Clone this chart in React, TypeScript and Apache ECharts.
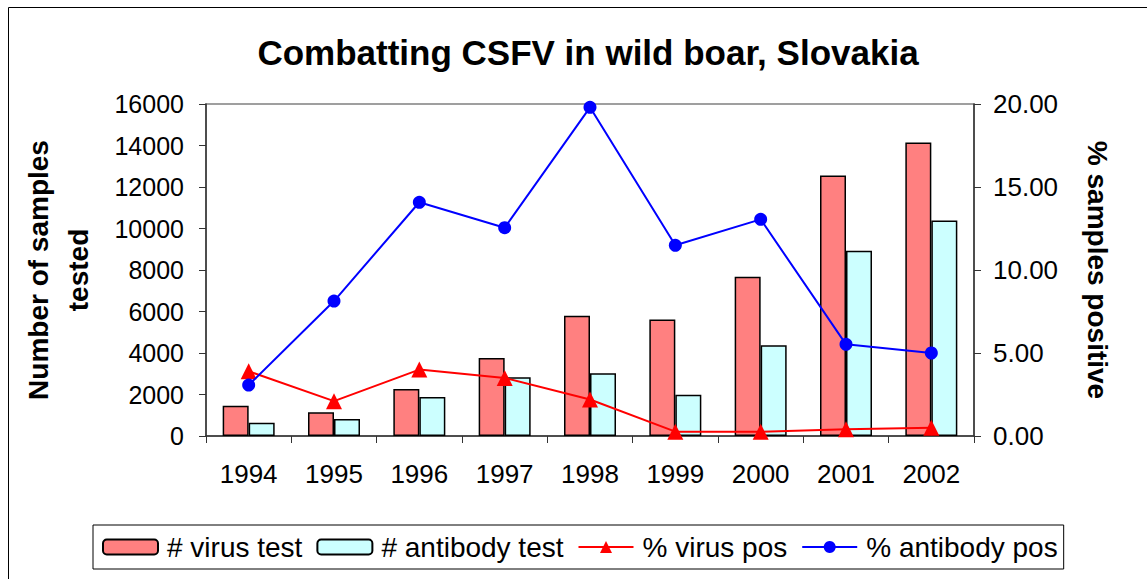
import React, { useEffect, useRef } from "react";
import * as echarts from "echarts";

const years = ["1994", "1995", "1996", "1997", "1998", "1999", "2000", "2001", "2002"];
const virusTests = [1460, 1140, 2270, 3760, 5800, 5620, 7680, 12560, 14140];
const antibodyTests = [640, 820, 1880, 2830, 3020, 1990, 4370, 8930, 10380];
const virusPos = [3.9, 2.1, 4.0, 3.5, 2.2, 0.26, 0.26, 0.4, 0.5];
const antibodyPos = [3.07, 8.13, 14.08, 12.55, 19.8, 11.49, 13.05, 5.52, 5.0];

const FONT = "Liberation Sans, Arial, sans-serif";

export default function App() {
  const ref = useRef<HTMLDivElement>(null);
  useEffect(() => {
    document.body.style.margin = "0";
    if (!ref.current) return;
    const chart = echarts.init(ref.current, undefined, { renderer: "svg" });
    chart.setOption({
      animation: false,
      backgroundColor: "#ffffff",
      textStyle: { fontFamily: FONT, color: "#000" },
      title: {
        text: "Combatting CSFV in wild boar, Slovakia",
        left: 583,
        textAlign: "center",
        top: 30,
        textStyle: { fontSize: 35, fontWeight: "bold", fontFamily: FONT, color: "#000" },
      },
      graphic: [
        {
          type: "rect",
          shape: { x: 8.5, y: 7.5, width: 1160, height: 600 },
          style: { fill: "none", stroke: "#000", lineWidth: 1 },
          silent: true,
          z: -1,
        },
      ],
      grid: {
        left: 206,
        right: 173,
        top: 104,
        bottom: 143,
        containLabel: false,
        outerBoundsMode: "none",
        show: true,
        borderColor: "#808080",
        borderWidth: 1.5,
      },
      legend: {
        left: 93,
        top: 525,
        padding: [8, 6, 8, 9],
        borderColor: "#000",
        borderWidth: 1,
        itemWidth: 55,
        itemHeight: 15,
        itemGap: 14,
        textStyle: { fontSize: 28, fontFamily: FONT, color: "#000", padding: [0, 0, 0, 4] },
        data: ["# virus test", "# antibody test", "% virus pos", "% antibody pos"],
      },
      xAxis: {
        type: "category",
        data: years,
        axisLine: { lineStyle: { color: "#333", width: 1.5 } },
        axisTick: { show: true, length: 7, lineStyle: { color: "#333" } },
        axisLabel: { fontSize: 26, color: "#000", margin: 25, fontFamily: FONT },
      },
      yAxis: [
        {
          type: "value",
          min: 0,
          max: 16000,
          interval: 2000,
          name: "Number of samples\ntested",
          nameLocation: "middle",
          nameGap: 108,
          nameTextStyle: { fontSize: 28, fontWeight: "bold", color: "#000", lineHeight: 40, fontFamily: FONT },
          axisLine: { show: true, lineStyle: { color: "#333", width: 1.5 } },
          axisTick: { show: true, length: 7, lineStyle: { color: "#333" } },
          axisLabel: {
            fontSize: 25,
            color: "#000",
            margin: 22,
            fontFamily: FONT,
            formatter: (v: number) => String(v),
          },
          splitLine: { show: false },
        },
        {
          type: "value",
          min: 0,
          max: 20,
          interval: 5,
          position: "right",
          name: "% samples positive",
          nameLocation: "middle",
          nameGap: 109,
          nameRotate: -90,
          nameTextStyle: { fontSize: 28, fontWeight: "bold", color: "#000", fontFamily: FONT },
          axisLine: { show: true, lineStyle: { color: "#333", width: 1.5 } },
          axisTick: { show: true, length: 7, lineStyle: { color: "#333" } },
          axisLabel: {
            fontSize: 26,
            color: "#000",
            margin: 19,
            fontFamily: FONT,
            formatter: (v: number) => v.toFixed(2),
          },
          splitLine: { show: false },
        },
      ],
      series: [
        {
          name: "# virus test",
          type: "bar",
          data: virusTests,
          barWidth: 26,
          barGap: "0%",
          itemStyle: { color: "#FF8080", borderColor: "#000", borderWidth: 1.5 },
        },
        {
          name: "# antibody test",
          type: "bar",
          data: antibodyTests,
          barWidth: 26,
          barGap: "0%",
          itemStyle: { color: "#CCFFFF", borderColor: "#000", borderWidth: 1.5 },
        },
        {
          name: "% virus pos",
          type: "line",
          yAxisIndex: 1,
          data: virusPos,
          symbol: "triangle",
          symbolSize: 16,
          lineStyle: { color: "#FF0000", width: 2 },
          itemStyle: { color: "#FF0000" },
          z: 5,
        },
        {
          name: "% antibody pos",
          type: "line",
          yAxisIndex: 1,
          data: antibodyPos,
          symbol: "circle",
          symbolSize: 13,
          lineStyle: { color: "#0000FF", width: 2 },
          itemStyle: { color: "#0000FF" },
          z: 6,
        },
      ],
    });
    return () => chart.dispose();
  }, []);
  return <div ref={ref} style={{ width: 1147, height: 579 }} />;
}
